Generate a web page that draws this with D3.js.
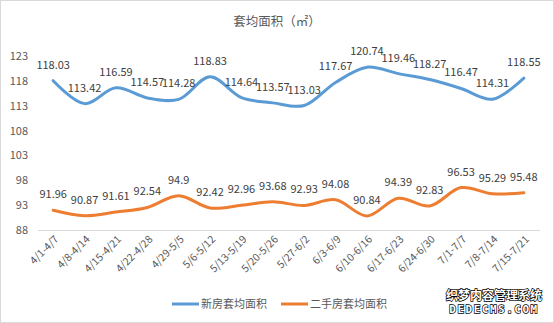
<!DOCTYPE html>
<html>
<head>
<meta charset="utf-8">
<script src="https://cdn.jsdelivr.net/npm/d3@7"></script>
<style>
  html, body { margin: 0; padding: 0; background: #fff; }
  svg { display: block; font-family: "Microsoft YaHei", "Noto Sans CJK SC", sans-serif; }
</style>
</head>
<body>
<svg id="chart" width="554" height="323"></svg>
<script>
// Weekly periods
const weeks = ["4/1-4/7", "4/8-4/14", "4/15-4/21", "4/22-4/28", "4/29-5/5", "5/6-5/12",
  "5/13-5/19", "5/20-5/26", "5/27-6/2", "6/3-6/9", "6/10-6/16", "6/17-6/23",
  "6/24-6/30", "7/1-7/7", "7/8-7/14", "7/15-7/21"];

// Average area per unit (㎡)
const newHomes = [118.03, 113.42, 116.59, 114.57, 114.28, 118.83, 114.64, 113.57,
  113.03, 117.67, 120.74, 119.46, 118.27, 116.47, 114.31, 118.55];
const resaleHomes = [91.96, 90.87, 91.61, 92.54, 94.9, 92.42, 92.96, 93.68,
  92.93, 94.08, 90.84, 94.39, 92.83, 96.53, 95.29, 95.48];

const yTicks = [88, 93, 98, 103, 108, 113, 118, 123];

const seriesList = [
  { name: "新房套均面积", values: newHomes, color: "#5B9BD5" },
  { name: "二手房套均面积", values: resaleHomes, color: "#ED7D31" }
];

const svg = d3.select("#chart");
const W = 554, H = 323;

// outer frame
svg.append("rect")
  .attr("x", 0.5).attr("y", 0.5)
  .attr("width", W - 1).attr("height", H - 1)
  .attr("fill", "#fff").attr("stroke", "#d9d9d9");

const x = d3.scaleBand().domain(weeks).range([37.5, 539.5]);
const y = d3.scaleLinear().domain([88, 123]).range([230, 56]);
const cx = d => x(d) + x.bandwidth() / 2;

// title
svg.append("text")
  .attr("x", 277).attr("y", 26)
  .attr("text-anchor", "middle")
  .attr("font-size", 12.5)
  .attr("fill", "#595959")
  .text("套均面积（㎡）");

// y axis labels
const yAxis = d3.axisLeft(y).tickValues(yTicks).tickSize(0).tickPadding(0);
const yG = svg.append("g").attr("transform", "translate(28,0)").call(yAxis);
yG.select(".domain").remove();
yG.selectAll("text")
  .attr("font-size", 11)
  .attr("fill", "#595959")
  .attr("font-family", "\"Microsoft YaHei\", \"Noto Sans CJK SC\", sans-serif");

// category axis
const xAxis = d3.axisBottom(x).tickSize(0).tickPadding(0);
const xG = svg.append("g").attr("transform", `translate(0,${y(88)})`).call(xAxis);
xG.select(".domain").attr("stroke", "#d9d9d9").attr("stroke-width", 1);
xG.selectAll("text")
  .attr("font-size", 10.5)
  .attr("fill", "#595959")
  .attr("font-family", "\"Microsoft YaHei\", \"Noto Sans CJK SC\", sans-serif")
  .attr("text-anchor", "end")
  .attr("dy", null)
  .attr("transform", "translate(6,10) rotate(-45)");

// smoothed lines
const line = d3.line()
  .x((v, i) => cx(weeks[i]))
  .y(v => y(v))
  .curve(d3.curveCatmullRom.alpha(0.5));

seriesList.forEach(s => {
  svg.append("path")
    .datum(s.values)
    .attr("d", line)
    .attr("fill", "none")
    .attr("stroke", s.color)
    .attr("stroke-width", 3)
    .attr("stroke-linecap", "round");

  svg.append("g").selectAll("text")
    .data(s.values)
    .join("text")
    .attr("x", (v, i) => cx(weeks[i]))
    .attr("y", v => y(v) - 12)
    .attr("text-anchor", "middle")
    .attr("font-size", 11)
    .attr("fill", "#404040")
    .text(v => v);
});

// legend
const legend = svg.append("g");
const legendItems = [
  { x: 172, s: seriesList[0] },
  { x: 281, s: seriesList[1] }
];
legendItems.forEach(item => {
  legend.append("line")
    .attr("x1", item.x).attr("x2", item.x + 27)
    .attr("y1", 304).attr("y2", 304)
    .attr("stroke", item.s.color).attr("stroke-width", 3);
  legend.append("text")
    .attr("x", item.x + 29).attr("y", 308)
    .attr("font-size", 11)
    .attr("fill", "#595959")
    .text(item.s.name);
});

// site mark
const mark = svg.append("g").attr("font-weight", "bold")
  .attr("fill", "#fff").attr("stroke", "#000").attr("stroke-width", 1.4)
  .attr("paint-order", "stroke");
mark.append("text").attr("x", 494).attr("y", 300)
  .attr("text-anchor", "middle").attr("font-size", 12)
  .text("织梦内容管理系统");
mark.append("text").attr("x", 494).attr("y", 313)
  .attr("text-anchor", "middle").attr("font-size", 11)
  .attr("letter-spacing", 1.5)
  .attr("font-family", "\"DejaVu Sans Mono\", monospace")
  .text("DEDECMS.COM");
</script>
</body>
</html>
